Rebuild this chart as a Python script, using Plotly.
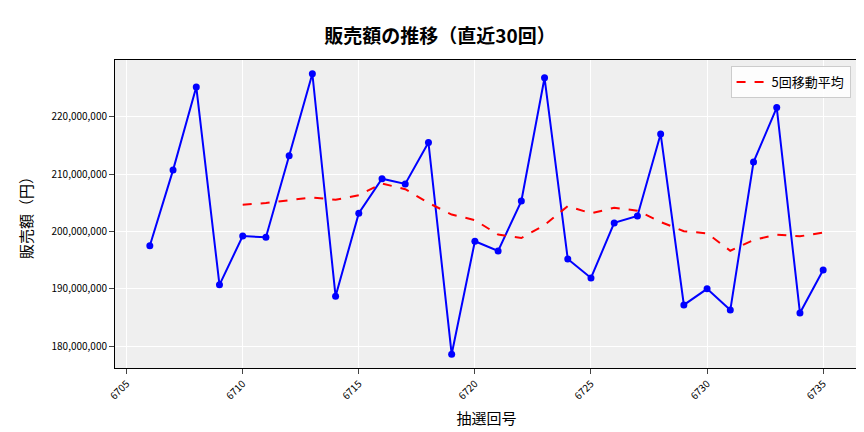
import plotly.graph_objects as go
import pandas as pd

draws = list(range(6706, 6736))
sales = [197.5, 210.7, 225.2, 190.7, 199.2, 199.0, 213.2, 227.5, 188.7, 203.2,
         209.2, 208.3, 215.5, 178.6, 198.3, 196.6, 205.3, 226.8, 195.2, 191.9,
         201.5, 202.7, 217.0, 187.2, 190.0, 186.3, 212.1, 221.6, 185.8, 193.3]
sales = [v * 1e6 for v in sales]
ma5 = pd.Series(sales).rolling(5).mean().tolist()

font = "Noto Sans CJK JP"
fig = go.Figure()
fig.add_trace(go.Scatter(x=draws, y=sales, mode="lines+markers",
                         line=dict(color="blue", width=2), marker=dict(color="blue", size=7),
                         showlegend=False))
fig.add_trace(go.Scatter(x=draws, y=ma5, mode="lines", name="5回移動平均",
                         line=dict(color="red", width=2, dash="dash")))
fig.update_layout(
    width=864, height=432, paper_bgcolor="white", plot_bgcolor="#efefef",
    margin=dict(l=107, r=14, t=52, b=72, autoexpand=False),
    font=dict(family=font, color="black"),
    title=dict(text="<b>販売額の推移（直近30回）</b>", x=0.5, xanchor="center", y=0.95,
               font=dict(size=19)),
    legend=dict(x=0.99, y=0.98, xanchor="right", yanchor="top", bgcolor="rgba(255,255,255,0.85)",
                bordercolor="#cccccc", borderwidth=1, font=dict(size=13)),
    xaxis=dict(title=dict(text="抽選回号", font=dict(size=15), standoff=12), range=[6704.5, 6736.5],
               tickvals=[6705, 6710, 6715, 6720, 6725, 6730, 6735], tickangle=-45,
               tickfont=dict(size=10), gridcolor="white", showline=True, linecolor="black",
               mirror=True, ticks="outside", zeroline=False, automargin=False),
    yaxis=dict(title=dict(text="販売額（円）", font=dict(size=15)), range=[176.2e6, 229.9e6],
               tickvals=[180e6, 190e6, 200e6, 210e6, 220e6], tickformat=",d",
               tickfont=dict(size=10), gridcolor="white", showline=True, linecolor="black",
               mirror=True, ticks="outside", zeroline=False, automargin=False),
)
fig.write_html("out.html")
